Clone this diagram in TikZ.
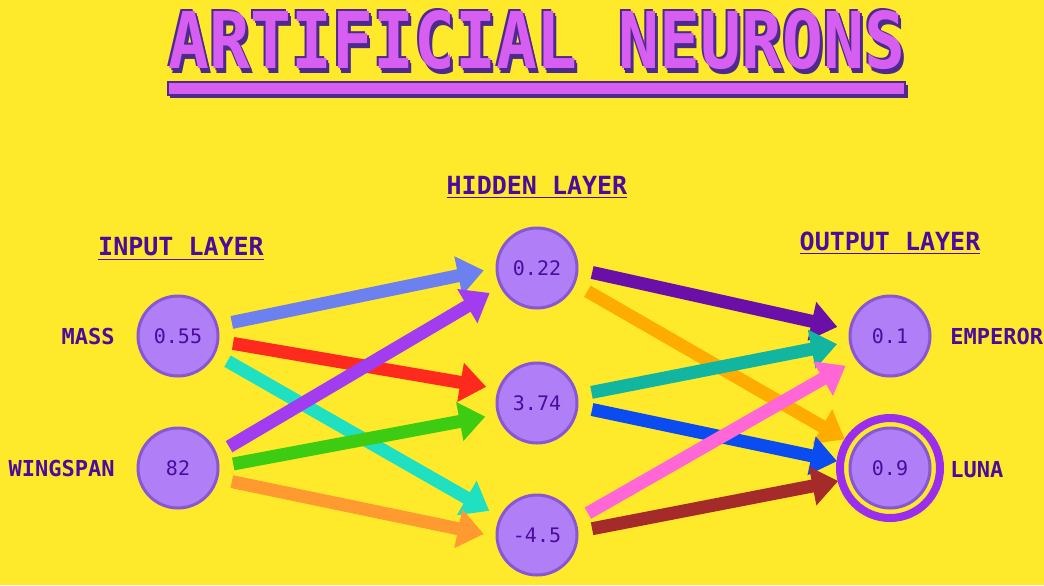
\documentclass[tikz,border=0pt]{standalone}
\usepackage{fontspec}
\setmonofont{DejaVu Sans Mono}
\usepackage{tikz}
\usetikzlibrary{arrows.meta}

\definecolor{bgyellow}{HTML}{FFE92B}
\definecolor{ink}{HTML}{4A0C9C}
\definecolor{nfill}{HTML}{B07EF6}
\definecolor{nedge}{HTML}{8757D4}
\definecolor{ring}{HTML}{9A2DEE}
\definecolor{tpink}{HTML}{D65EF0}
\definecolor{tshadow}{HTML}{4E2A8E}
\definecolor{cblue}{HTML}{6D80F0}
\definecolor{cpurple}{HTML}{A23CF0}
\definecolor{cred}{HTML}{FF2A1E}
\definecolor{cgreen}{HTML}{3ECC12}
\definecolor{ccyan}{HTML}{20E0C2}
\definecolor{corange}{HTML}{FF9A30}
\definecolor{cdpurple}{HTML}{6A10A8}
\definecolor{camber}{HTML}{FFAC00}
\definecolor{cteal}{HTML}{12B5A0}
\definecolor{cblue2}{HTML}{0A4CF0}
\definecolor{cpink}{HTML}{FF66D6}
\definecolor{cmaroon}{HTML}{A52A2A}

\begin{document}
\begin{tikzpicture}[x=0.5pt, y=-0.5pt,
	every node/.style={text=ink},
	neuron/.style={circle, fill=nfill, draw=nedge, line width=1.5pt, minimum size=40pt, inner sep=0pt, font=\ttfamily\fontsize{10}{10}\selectfont},
	heading/.style={font=\ttfamily\bfseries\fontsize{12.5}{12.5}\selectfont},
	tag/.style={inner sep=0pt, font=\ttfamily\bfseries\fontsize{11}{11}\selectfont},
	titlefont/.style={font=\ttfamily\bfseries\fontsize{34}{34}\selectfont},
	link/.style={line width=6.5pt, -{Triangle[length=13pt,width=19pt]}, shorten <=7pt, shorten >=6pt}]
	\useasboundingbox[fill=bgyellow] (0,0) rectangle (1044,585);

	\foreach \dx/\dy in {-2/-2, 2/2, 3/5}
		\node[titlefont, text=tshadow] at (537+\dx,40+\dy) {\scalebox{1}[1.15]{ARTIFICIAL NEURONS}};
	\node[titlefont, text=tpink] (title) at (537,40) {\scalebox{1}[1.15]{ARTIFICIAL NEURONS}};
	\fill[tshadow] (170,85) rectangle (908,98);
	\draw[fill=tpink, draw=tshadow, line width=1pt] (168,82) rectangle (905,95);

	\node[heading] (inhead) at (181,249) {\underline{INPUT LAYER}};
	\node[heading] (hidhead) at (537,187) {\underline{HIDDEN LAYER}};
	\node[heading] (outhead) at (890,243) {\underline{OUTPUT LAYER}};

	\node[neuron] (in1) at (178,336) {0.55};
	\node[neuron] (in2) at (178,468) {82};
	\node[neuron] (h1) at (537,268) {0.22};
	\node[neuron] (h2) at (537,403) {3.74};
	\node[neuron] (h3) at (537,535) {-4.5};
	\node[neuron] (out1) at (890,336) {0.1};
	\node[neuron] (out2) at (890,468) {0.9};
	\draw[ring, line width=4pt] (out2) circle (25pt);

	\node[tag, anchor=east] (mass) at (115,336) {MASS};
	\node[tag, anchor=east] (wingspan) at (115,468) {WINGSPAN};
	\node[tag, anchor=west] (emperor) at (950,336) {EMPEROR};
	\node[tag, anchor=west] (luna) at (950,470) {LUNA};

	\draw[link, cblue] (in1.15) -- (h1.180);
	\draw[link, cred] (in1.-7) -- (h2.160);
	\draw[link, ccyan] (in1.-26) -- (h3.154);
	\draw[link, cpurple] (in2.20) -- (h1.-153);
	\draw[link, cgreen] (in2.2) -- (h2.196);
	\draw[link, corange] (in2.-15) -- (h3.182);
	\draw[link, cdpurple] (h1.-2) -- (out1.171);
	\draw[link, camber] (h1.-23) -- (out2.147);
	\draw[link, cteal] (h2.11) -- (out1.188);
	\draw[link, cblue2] (h2.-5) -- (out2.174);
	\draw[link, cpink] (h3.21) -- (out1.215);
	\draw[link, cmaroon] (h3.5) -- (out2.195);
\end{tikzpicture}
\end{document}
